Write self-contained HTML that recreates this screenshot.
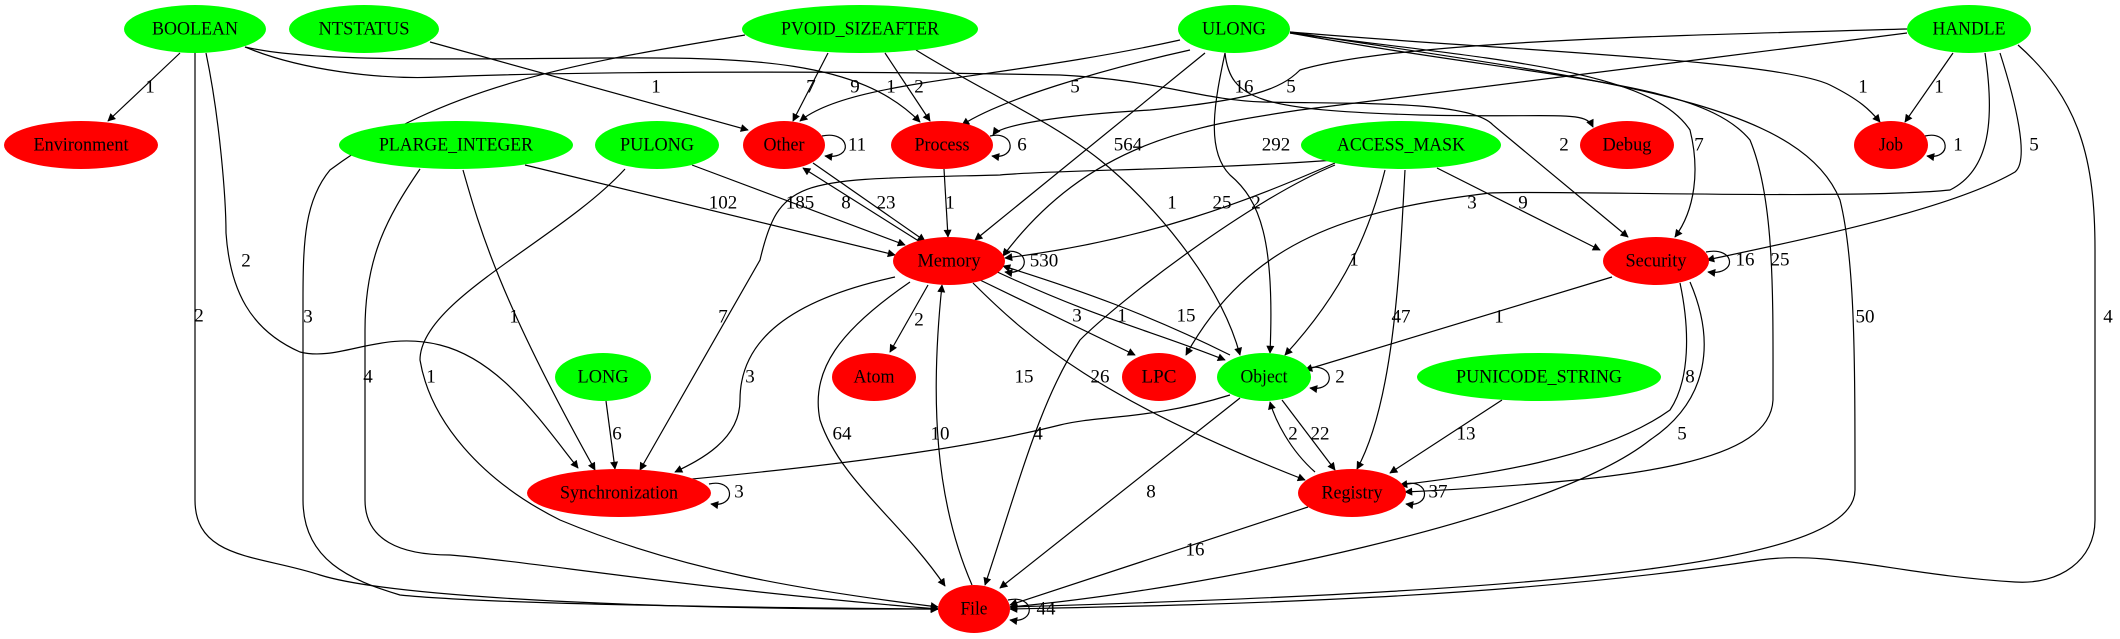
<!DOCTYPE html>
<html><head><meta charset="utf-8"><style>
html,body{margin:0;padding:0;background:#fff;}
svg{display:block;}
text{font-family:"Liberation Serif",serif;font-size:19px;fill:#000;}
</style></head><body>
<svg width="2120" height="639" viewBox="0 0 2120 639" xmlns="http://www.w3.org/2000/svg">
<defs><marker id="a" viewBox="0 0 10 10" refX="9" refY="5" markerWidth="9" markerHeight="8" orient="auto" markerUnits="userSpaceOnUse"><path d="M0,0L10,5L0,10z" fill="#000"/></marker>
<style>path.e{fill:none;stroke:#000;stroke-width:1.2;marker-end:url(#a);}</style></defs>
<g>
<path class="e" d="M180,53 L108,121"/>
<path class="e" d="M195,53 L195,500 C195,560 260,555 320,575 C400,600 700,610 938,609"/>
<path class="e" d="M206,53 C220,120 226,200 226,233 C230,290 250,330 300,352 C340,362 380,330 440,345 C500,360 540,420 578,468"/>
<path class="e" d="M245,47 C300,60 400,60 600,58 C750,57 860,60 920,122"/>
<path class="e" d="M245,47 C300,70 380,80 440,77 C560,72 800,70 1060,75 C1160,80 1200,100 1263,102 C1350,104 1470,100 1493,125 L1628,237"/>
<path class="e" d="M430,42 L748,130"/>
<path class="e" d="M828,53 L793,121"/>
<path class="e" d="M885,53 L930,121"/>
<path class="e" d="M745,35 C600,60 450,80 330,170 C305,200 303,240 303,300 L303,500 C303,560 350,580 400,595 C500,605 800,608 938,609"/>
<path class="e" d="M916,50 C980,90 1050,120 1100,160 C1150,200 1220,280 1240,355"/>
<path class="e" d="M1180,40 C1000,80 850,80 800,121"/>
<path class="e" d="M1190,50 C1100,70 1000,100 962,125"/>
<path class="e" d="M1205,53 L975,240"/>
<path class="e" d="M1225,53 C1230,100 1260,110 1420,115 C1560,118 1585,110 1593,127"/>
<path class="e" d="M1225,53 C1215,100 1205,150 1230,175 C1260,200 1275,240 1270,353"/>
<path class="e" d="M1290,33 C1500,60 1650,70 1690,130 C1700,170 1695,210 1675,237"/>
<path class="e" d="M1290,32 C1500,50 1780,60 1830,85 C1860,100 1870,110 1880,122"/>
<path class="e" d="M1290,33 C1550,80 1700,80 1750,140 C1775,200 1773,300 1773,400 C1770,460 1650,480 1405,492"/>
<path class="e" d="M1290,32 C1600,80 1800,100 1840,200 C1855,260 1855,360 1855,490 C1855,560 1600,590 1010,607"/>
<path class="e" d="M1953,53 L1905,122"/>
<path class="e" d="M1907,29 C1700,35 1400,40 1300,70 C1280,90 1250,100 1150,110 C1060,115 1000,125 993,135"/>
<path class="e" d="M1907,33 C1700,60 1450,90 1300,110 C1200,125 1090,140 1003,256"/>
<path class="e" d="M2000,53 C2015,100 2030,160 2015,172 C1950,210 1800,240 1707,260"/>
<path class="e" d="M1985,53 C1995,120 1990,170 1950,190 C1850,200 1550,190 1490,193 C1350,210 1250,240 1186,355"/>
<path class="e" d="M2018,45 C2080,100 2095,160 2095,250 L2095,520 C2095,560 2060,585 2015,582 C1900,575 1830,550 1760,560 C1500,600 1200,605 1010,609"/>
<path class="e" d="M1335,163 C1250,200 1150,240 1005,258"/>
<path class="e" d="M1335,160 C1200,170 1050,170 1000,175 C800,180 780,175 760,260 L640,470"/>
<path class="e" d="M1335,165 C1250,200 1120,300 1080,340 C1040,400 1020,480 985,585"/>
<path class="e" d="M1385,170 C1370,230 1345,290 1285,355"/>
<path class="e" d="M1405,170 C1400,260 1395,400 1357,469"/>
<path class="e" d="M1437,168 L1600,250"/>
<path class="e" d="M525,165 L895,255"/>
<path class="e" d="M463,170 C480,230 500,300 595,470"/>
<path class="e" d="M420,169 C385,220 365,260 365,330 L365,500 C365,540 400,555 450,555 C520,560 700,590 938,609"/>
<path class="e" d="M692,165 L905,245"/>
<path class="e" d="M625,169 C560,240 420,300 420,360 C430,420 480,480 560,520 C680,570 800,590 938,607"/>
<path class="e" d="M813,163 L925,241"/>
<path class="e" d="M925,245 L803,168"/>
<path class="e" d="M944,169 L948,237"/>
<path class="e" d="M895,277 C790,300 740,340 740,400 C740,440 700,460 675,472"/>
<path class="e" d="M910,282 C840,330 810,370 820,420 C840,480 900,520 945,586"/>
<path class="e" d="M972,585 C935,500 930,400 942,285"/>
<path class="e" d="M928,285 L890,352"/>
<path class="e" d="M980,280 L1135,355"/>
<path class="e" d="M993,270 C1100,320 1150,330 1225,360"/>
<path class="e" d="M1230,355 C1150,315 1080,290 1003,266"/>
<path class="e" d="M973,283 C1030,340 1100,400 1305,480"/>
<path class="e" d="M1230,395 C1150,420 1100,415 1060,425 C1000,440 900,460 660,482"/>
<path class="e" d="M1240,398 L1000,588"/>
<path class="e" d="M1282,400 L1335,470"/>
<path class="e" d="M1315,472 C1290,450 1275,420 1270,402"/>
<path class="e" d="M1612,277 L1305,370"/>
<path class="e" d="M1680,283 C1690,330 1690,380 1670,410 C1600,460 1480,475 1400,485"/>
<path class="e" d="M1690,282 C1715,340 1710,400 1650,440 C1550,520 1200,590 1010,607"/>
<path class="e" d="M1502,400 L1390,473"/>
<path class="e" d="M606,401 L615,469"/>
<path class="e" d="M1308,507 L1010,605"/>
<path class="e" d="M822,136 C850,130 855,160 825,156"/>
<path class="e" d="M990,136 C1015,130 1018,160 992,156"/>
<path class="e" d="M1003,252 C1030,246 1032,276 1005,272"/>
<path class="e" d="M1925,136 C1950,130 1953,160 1927,156"/>
<path class="e" d="M1706,252 C1736,246 1738,276 1708,272"/>
<path class="e" d="M1308,368 C1335,362 1337,392 1310,388"/>
<path class="e" d="M1404,484 C1430,478 1432,508 1406,504"/>
<path class="e" d="M709,484 C735,478 737,508 711,504"/>
<path class="e" d="M1008,600 C1035,594 1037,624 1010,620"/>
</g>
<g>
<ellipse cx="195" cy="29" rx="71" ry="24" fill="#00ff00"/>
<ellipse cx="364" cy="29" rx="75" ry="24" fill="#00ff00"/>
<ellipse cx="860" cy="29" rx="118" ry="24" fill="#00ff00"/>
<ellipse cx="1234" cy="29" rx="56" ry="24" fill="#00ff00"/>
<ellipse cx="1969" cy="29" rx="62" ry="24" fill="#00ff00"/>
<ellipse cx="81" cy="145" rx="77" ry="24" fill="#ff0000"/>
<ellipse cx="456" cy="145" rx="117" ry="24" fill="#00ff00"/>
<ellipse cx="657" cy="145" rx="62" ry="24" fill="#00ff00"/>
<ellipse cx="784" cy="145" rx="41" ry="24" fill="#ff0000"/>
<ellipse cx="942" cy="145" rx="51" ry="24" fill="#ff0000"/>
<ellipse cx="1401" cy="145" rx="100" ry="24" fill="#00ff00"/>
<ellipse cx="1627" cy="145" rx="47" ry="24" fill="#ff0000"/>
<ellipse cx="1891" cy="145" rx="37" ry="24" fill="#ff0000"/>
<ellipse cx="949" cy="261" rx="56" ry="24" fill="#ff0000"/>
<ellipse cx="1656" cy="261" rx="53" ry="24" fill="#ff0000"/>
<ellipse cx="603" cy="377" rx="48" ry="24" fill="#00ff00"/>
<ellipse cx="874" cy="377" rx="42" ry="24" fill="#ff0000"/>
<ellipse cx="1159" cy="377" rx="37" ry="24" fill="#ff0000"/>
<ellipse cx="1264" cy="377" rx="47" ry="24" fill="#00ff00"/>
<ellipse cx="1539" cy="377" rx="122" ry="24" fill="#00ff00"/>
<ellipse cx="619" cy="493" rx="92" ry="24" fill="#ff0000"/>
<ellipse cx="1352" cy="493" rx="54" ry="24" fill="#ff0000"/>
<ellipse cx="974" cy="609" rx="36" ry="24" fill="#ff0000"/>
</g>
<g text-anchor="middle" dominant-baseline="central">
<text x="195" y="29" textLength="86" lengthAdjust="spacingAndGlyphs">BOOLEAN</text>
<text x="364" y="29" textLength="91" lengthAdjust="spacingAndGlyphs">NTSTATUS</text>
<text x="860" y="29" textLength="158" lengthAdjust="spacingAndGlyphs">PVOID_SIZEAFTER</text>
<text x="1234" y="29" textLength="64" lengthAdjust="spacingAndGlyphs">ULONG</text>
<text x="1969" y="29" textLength="73" lengthAdjust="spacingAndGlyphs">HANDLE</text>
<text x="81" y="145" textLength="95" lengthAdjust="spacingAndGlyphs">Environment</text>
<text x="456" y="145" textLength="154" lengthAdjust="spacingAndGlyphs">PLARGE_INTEGER</text>
<text x="657" y="145" textLength="74" lengthAdjust="spacingAndGlyphs">PULONG</text>
<text x="784" y="145" textLength="41" lengthAdjust="spacingAndGlyphs">Other</text>
<text x="942" y="145" textLength="55" lengthAdjust="spacingAndGlyphs">Process</text>
<text x="1401" y="145" textLength="128" lengthAdjust="spacingAndGlyphs">ACCESS_MASK</text>
<text x="1627" y="145" textLength="49" lengthAdjust="spacingAndGlyphs">Debug</text>
<text x="1891" y="145" textLength="24" lengthAdjust="spacingAndGlyphs">Job</text>
<text x="949" y="261" textLength="63" lengthAdjust="spacingAndGlyphs">Memory</text>
<text x="1656" y="261" textLength="61" lengthAdjust="spacingAndGlyphs">Security</text>
<text x="603" y="377" textLength="51" lengthAdjust="spacingAndGlyphs">LONG</text>
<text x="874" y="377" textLength="41" lengthAdjust="spacingAndGlyphs">Atom</text>
<text x="1159" y="377" textLength="35" lengthAdjust="spacingAndGlyphs">LPC</text>
<text x="1264" y="377" textLength="47" lengthAdjust="spacingAndGlyphs">Object</text>
<text x="1539" y="377" textLength="166" lengthAdjust="spacingAndGlyphs">PUNICODE_STRING</text>
<text x="619" y="493" textLength="118" lengthAdjust="spacingAndGlyphs">Synchronization</text>
<text x="1352" y="493" textLength="61" lengthAdjust="spacingAndGlyphs">Registry</text>
<text x="974" y="609" textLength="27" lengthAdjust="spacingAndGlyphs">File</text>
</g>
<g text-anchor="middle" dominant-baseline="central" style="font-size:18px">
<text x="150" y="87">1</text><text x="199" y="316">2</text><text x="246" y="261">2</text>
<text x="891" y="87">1</text><text x="1564" y="145">2</text><text x="656" y="87">1</text>
<text x="811" y="87">7</text><text x="919" y="87">2</text><text x="308" y="317">3</text>
<text x="1172" y="203">1</text><text x="855" y="87">9</text><text x="1075" y="87">5</text>
<text x="1128" y="145">564</text><text x="1244" y="87">16</text><text x="1256" y="203">2</text>
<text x="1699" y="145">7</text><text x="1863" y="87">1</text><text x="1780" y="260">25</text>
<text x="1865" y="317">50</text><text x="1939" y="87">1</text><text x="1291" y="87">5</text>
<text x="1276" y="145">292</text><text x="2034" y="145">5</text><text x="1472" y="203">3</text>
<text x="2108" y="317">4</text><text x="1222" y="203">25</text><text x="723" y="317">7</text>
<text x="1024" y="377">15</text><text x="1354" y="260">1</text><text x="1401" y="317">47</text>
<text x="1523" y="203">9</text><text x="723" y="203">102</text><text x="514" y="317">1</text>
<text x="368" y="377">4</text><text x="800" y="203">185</text><text x="431" y="377">1</text>
<text x="886" y="203">23</text><text x="846" y="203">8</text><text x="950" y="203">1</text>
<text x="750" y="377">3</text><text x="842" y="434">64</text><text x="940" y="434">10</text>
<text x="919" y="320">2</text><text x="1077" y="316">3</text><text x="1122" y="316">1</text>
<text x="1186" y="316">15</text><text x="1100" y="377">26</text><text x="1038" y="434">4</text>
<text x="1151" y="492">8</text><text x="1320" y="434">22</text><text x="1293" y="434">2</text>
<text x="1499" y="317">1</text><text x="1690" y="377">8</text><text x="1682" y="434">5</text>
<text x="1466" y="434">13</text><text x="617" y="434">6</text><text x="1195" y="550">16</text>
<text x="857" y="145">11</text><text x="1022" y="145">6</text><text x="1044" y="261">530</text>
<text x="1958" y="145">1</text><text x="1745" y="260">16</text><text x="1340" y="377">2</text>
<text x="1438" y="492">37</text><text x="739" y="492">3</text><text x="1046" y="609">44</text>
</g>
</svg>
</body></html>
